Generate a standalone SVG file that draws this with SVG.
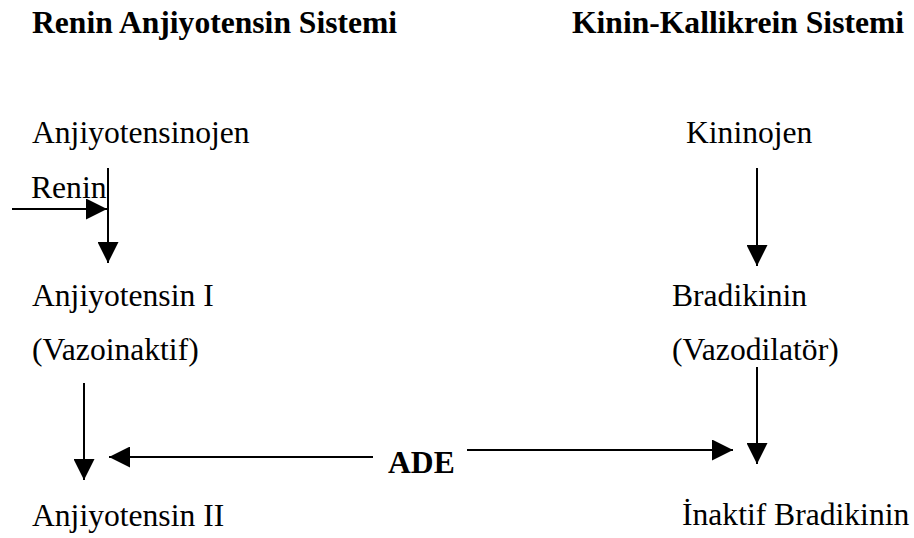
<svg xmlns="http://www.w3.org/2000/svg" width="914" height="538" viewBox="0 0 914 538">
<style>
text{font-family:"Liberation Serif","Times New Roman",serif;font-size:31.6px;fill:#000}
.b{font-weight:bold}
.c line{stroke:#000;stroke-width:2;marker-end:url(#ah)}
</style>
<defs>
<marker id="ah" markerUnits="userSpaceOnUse" markerWidth="21" markerHeight="21" refX="20" refY="10" orient="auto" viewBox="0 0 20 20">
<path d="M0,0 L20,10 L0,20 z" fill="#000"/>
</marker>
</defs>
<rect width="914" height="538" fill="#fff"/>
<g id="title-ras"><text class="b" x="32" y="33">Renin Anjiyotensin Sistemi</text></g>
<g id="title-kks"><text class="b" x="572" y="33">Kinin-Kallikrein Sistemi</text></g>
<g id="anjiyotensinojen"><text x="32" y="143">Anjiyotensinojen</text></g>
<g id="renin"><text x="31" y="198">Renin</text></g>
<g id="anjiyotensin1"><text x="32" y="306">Anjiyotensin I</text><text x="32" y="360">(Vazoinaktif)</text></g>
<g id="anjiyotensin2"><text x="32" y="526">Anjiyotensin II</text></g>
<g id="kininojen"><text x="686" y="143">Kininojen</text></g>
<g id="bradikinin"><text x="672" y="306">Bradikinin</text><text x="672" y="360">(Vazodilatör)</text></g>
<g id="inaktif-bradikinin"><text x="682" y="525">İnaktif Bradikinin</text></g>
<g id="ade"><text class="b" x="388" y="473">ADE</text></g>
<g id="connectors" class="c">
<line x1="12" y1="209" x2="107" y2="209"/>
<line x1="108" y1="168" x2="108" y2="263"/>
<line x1="84" y1="383" x2="84" y2="480"/>
<line x1="373" y1="457" x2="109" y2="457"/>
<line x1="467" y1="450" x2="733" y2="450"/>
<line x1="757" y1="168" x2="757" y2="266"/>
<line x1="757" y1="367" x2="757" y2="464"/>
</g>
</svg>
